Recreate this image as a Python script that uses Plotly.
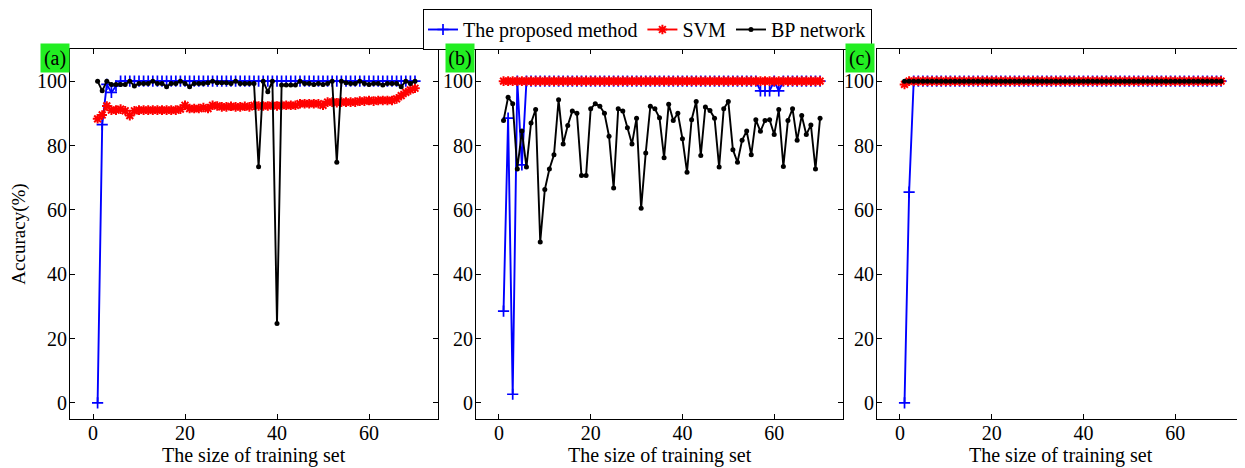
import plotly.graph_objects as go

x_size = list(range(1, 71))

# Panel (a)
proposed_a = [0, 86.5, 99, 96.5, 98.5, 100] + [100] * 64
svm_a = [88.3, 89.5, 92.3, 91, 91, 91.3, 90.8, 89.3, 90.8, 91,
         91, 91, 91, 91, 91, 91, 91, 91, 91.3, 92.5,
         91.5, 91.5, 91.5, 91.8, 91.5, 92.5, 92.3, 92, 92, 92.2,
         92, 92, 92.2, 92, 92.5, 92.3, 92.3, 92.3, 92.5, 92.3,
         92.5, 92.5, 92.5, 92.5, 93, 93, 93, 93, 93, 92.5,
         93.5, 93.5, 93.3, 93.5, 93.5, 93.5, 93.5, 93.8, 93.8, 94,
         93.8, 94, 94, 94, 94, 94.5, 95.5, 96.5, 97.3, 97.8]
bp_a = [100, 97, 100, 99, 99, 99, 99, 100, 98.5, 99.3,
        99.3, 99.3, 100, 99.3, 99.3, 98.3, 99.3, 99.3, 100, 99.3,
        98.3, 99.3, 99.3, 99.3, 99.5, 100, 99.5, 99.5, 99.5, 99.3,
        100, 99.3, 99.3, 99.3, 99.3, 73.4, 100, 96.7, 100, 24.7,
        98.8, 98.8, 98.8, 98.8, 100, 99.3, 99.3, 99, 99.3, 99,
        99.3, 100, 74.8, 100, 99.5, 99.3, 99.3, 100, 99.3, 99,
        99.3, 99.3, 98.8, 99.3, 99.3, 99.3, 98.3, 100, 99.3, 100]

# Panel (b)
proposed_b = ([28.5, 88.5, 2.7, 100, 74, 100] + [100] * 50 +
              [97, 97, 97, 100, 97] + [100] * 9)
svm_b = [100] * 70
bp_b = [87.8, 95, 93, 72.7, 84.5, 73.3, 87, 91.2, 50, 66.3,
        72.7, 77.1, 94.2, 80.5, 86.2, 90.7, 90, 70.7, 70.7, 91.4,
        93, 92.2, 90, 82.9, 66.8, 91.4, 90.7, 85.5, 80.5, 88.5,
        60.5, 77.7, 92.2, 91.4, 88.6, 76.2, 92.8, 87.8, 90, 82.1,
        71.7, 88, 93.7, 76.9, 92, 90.9, 88.5, 73.3, 91.4, 93.7,
        78.7, 74.8, 81.6, 84.5, 77.1, 88, 84.4, 87.8, 88, 83.4,
        91.2, 73.5, 87.8, 91.4, 81.6, 89.3, 83.4, 86.4, 72.7, 88.5]

# Panel (c)
proposed_c = [0, 65.5] + [100] * 68
svm_c = [99] + [100] * 69
bp_c = [100] * 70

series_names = ["The proposed method", "SVM", "BP network"]
panel_labels = ["(a)", "(b)", "(c)"]
x_title = "The size of training set"
y_title = "Accuracy(%)"
x_ticks = [0, 20, 40, 60]
y_ticks = [0, 20, 40, 60, 80, 100]

panels = [(proposed_a, svm_a, bp_a),
          (proposed_b, svm_b, bp_b),
          (proposed_c, svm_c, bp_c)]

# the page adds an 8px body margin; size the figure so it fits the window
W, H = 1237, 460
x_domains = [(62 / W, 430 / W), (468 / W, 835 / W), (869 / W, 1236 / W)]
y_domain = (1 - 411 / H, 1 - 41 / H)
label_left = [32 / W, 437 / W, 837 / W]

FONT = "Liberation Serif, Times New Roman, serif"

fig = go.Figure()

for i, (p, s, b) in enumerate(panels):
    xa = "x" if i == 0 else f"x{i + 1}"
    ya = "y" if i == 0 else f"y{i + 1}"
    show = i == 0
    fig.add_trace(go.Scatter(
        x=x_size, y=p, mode="lines+markers", name=series_names[0],
        line=dict(color="#0000ff", width=1.9),
        marker=dict(symbol="cross-thin-open", size=8,
                    line=dict(color="#0000ff", width=1.7)),
        xaxis=xa, yaxis=ya, showlegend=show, legendgroup="p"))
    fig.add_trace(go.Scatter(
        x=x_size, y=s, mode="lines+markers", name=series_names[1],
        line=dict(color="#ff0000", width=1.9),
        marker=dict(symbol="asterisk-open", size=8,
                    line=dict(color="#ff0000", width=2)),
        xaxis=xa, yaxis=ya, showlegend=show, legendgroup="s"))
    fig.add_trace(go.Scatter(
        x=x_size, y=b, mode="lines+markers", name=series_names[2],
        line=dict(color="#000000", width=1.9),
        marker=dict(symbol="circle", size=5, color="#000000"),
        xaxis=xa, yaxis=ya, showlegend=show, legendgroup="b"))

axis_common = dict(
    showline=True, linecolor="black", linewidth=1.2, mirror="ticks",
    ticks="inside", ticklen=5, tickcolor="black", showgrid=False,
    zeroline=False, automargin=False,
    tickfont=dict(family=FONT, size=20, color="black"),
)

layout = dict(
    width=W, height=H,
    margin=dict(l=0, r=0, t=0, b=0, autoexpand=False),
    paper_bgcolor="white", plot_bgcolor="white",
    font=dict(family=FONT, size=20, color="black"),
    showlegend=True,
    legend=dict(orientation="h", x=639.5 / W, xanchor="center", y=1 - 1 / H,
                yanchor="top", bordercolor="black", borderwidth=1,
                bgcolor="white", font=dict(family=FONT, size=20),
                tracegroupgap=0),
)

for i in range(3):
    xk = "xaxis" if i == 0 else f"xaxis{i + 1}"
    yk = "yaxis" if i == 0 else f"yaxis{i + 1}"
    yref = "y" if i == 0 else f"y{i + 1}"
    xref = "x" if i == 0 else f"x{i + 1}"
    layout[xk] = dict(axis_common, domain=list(x_domains[i]), range=[-5, 75],
                      tickvals=x_ticks, anchor=yref, ticklabelstandoff=-4)
    yaxis = dict(axis_common, domain=list(y_domain), range=[-5, 110],
                 tickvals=y_ticks, anchor=xref, ticklabelstandoff=-2)
    if i == 0:
        yaxis["title"] = dict(text=y_title, font=dict(family=FONT, size=19),
                              standoff=6)
    layout[yk] = yaxis

fig.update_layout(**layout)

for i, lab in enumerate(panel_labels):
    fig.add_annotation(
        text=lab, xref="paper", yref="paper", x=label_left[i], xanchor="left",
        y=1 - 35 / H, yanchor="top", showarrow=False, width=28, height=28,
        align="center", valign="middle",
        font=dict(family=FONT, size=20, color="black"),
        bgcolor="#22ee22", borderpad=0)
    xd = "x domain" if i == 0 else f"x{i + 1} domain"
    fig.add_annotation(
        text=x_title, xref=xd, x=0.5, xanchor="center",
        yref="paper", y=1 - 447 / H, yanchor="middle", showarrow=False,
        font=dict(family=FONT, size=20, color="black"))

fig.write_html("out.html")
